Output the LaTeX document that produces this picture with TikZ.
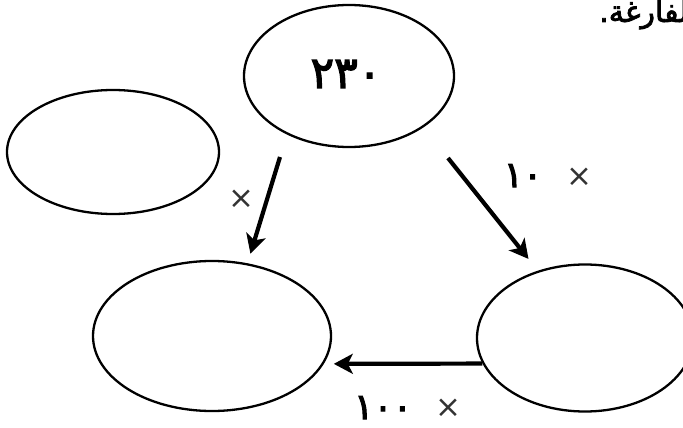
\documentclass[tikz,border=0pt]{standalone}
\usepackage{fontspec}
\setmainfont{DejaVu Sans}
\newfontfamily\arabicfont[Script=Arabic,FakeBold=2.5]{DejaVu Sans}
\newfontfamily\numfont[FakeBold=3]{DejaVu Sans}
\TeXXeTstate=1
\usetikzlibrary{arrows.meta,shapes.geometric}
\begin{document}
\begin{tikzpicture}[x=1pt,y=-1pt,
  oval/.style={draw, ellipse, line width=2.3pt, inner sep=0pt},
  arr/.style={line width=4.2pt, -{Stealth[length=19pt,width=20pt,inset=5pt]}},
  num/.style={font=\numfont\fontsize{36}{36}\selectfont, inner sep=0pt, anchor=base},
  times/.style={font=\fontsize{31}{31}\selectfont, inner sep=0pt, text=black!80}]
\useasboundingbox[clip] (0,0) rectangle (683,428);
\fill[white] (0,0) rectangle (683,428);
% partial heading text, cut by the right edge as in the reference
\node[anchor=base east, inner sep=0pt, font=\fontsize{30}{30}\selectfont] (head) at (697,22) {\arabicfont\beginR الفارغة.\endR};
% ellipses
\node[oval, minimum width=210pt, minimum height=142pt] (top) at (349,76) {};
\node[num, font=\numfont\fontsize{44}{44}\selectfont] (val) at (346,88) {٢٣٠};
\node[oval, minimum width=212pt, minimum height=124pt] (left) at (113,152) {};
\node[oval, minimum width=238pt, minimum height=150pt] (bl) at (212,336) {};
\node[oval, minimum width=216pt, minimum height=147pt] (br) at (585,338) {};
% arrow start points
\coordinate (a1s) at (280,157);
\coordinate (a2s) at (448,158);
% arrows
\draw[arr, shorten >=10pt] (a1s) -- (bl.64);
\draw[arr, shorten >=15pt] (a2s) -- (br.125);
\draw[arr, shorten >=10pt] (br.194) -- (bl.-14);
% labels
\node[times] (l1) at (241,199) {×};
\node[num] (l2n) at (523,187) {١٠};
\node[times] (l2x) at (579,177) {×};
\node[num] (l3n) at (383,419) {١٠٠};
\node[times] (l3x) at (448,408) {×};
\end{tikzpicture}
\end{document}
